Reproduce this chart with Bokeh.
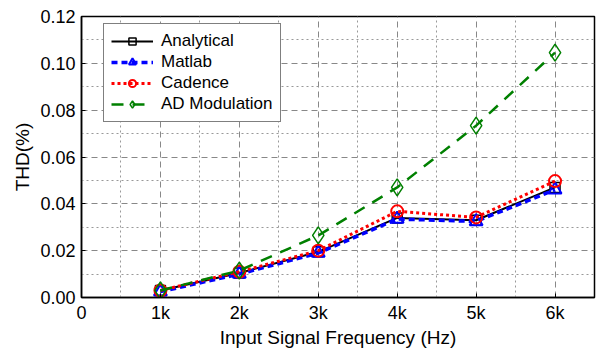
from bokeh.plotting import figure
from bokeh.models import FixedTicker, Range1d, Legend, LegendItem, CustomJSTickFormatter
from bokeh.embed import file_html
from bokeh.resources import INLINE

freq = [1000, 2000, 3000, 4000, 5000, 6000]
analytical = [0.0030, 0.0105, 0.0195, 0.0340, 0.0330, 0.0470]
matlab = [0.0025, 0.0100, 0.0190, 0.0335, 0.0325, 0.0460]
cadence = [0.0030, 0.0110, 0.0200, 0.0368, 0.0342, 0.0497]
ad_mod = [0.0030, 0.0115, 0.0265, 0.0470, 0.0734, 0.1046]

x_ticks = [0, 1000, 2000, 3000, 4000, 5000, 6000]
x_labels = ["0", "1k", "2k", "3k", "4k", "5k", "6k"]
x_minor = [500, 1500, 2500, 3500, 4500, 5500, 6500]
y_ticks = [0.00, 0.02, 0.04, 0.06, 0.08, 0.10, 0.12]
y_minor = [0.01, 0.03, 0.05, 0.07, 0.09, 0.11]

FONT = "Liberation Sans"

p = figure(width=603, height=350, output_backend="svg", toolbar_location=None,
           x_range=Range1d(0, 6500), y_range=Range1d(0, 0.12),
           min_border_left=81, min_border_right=9, min_border_top=16, min_border_bottom=53)
p.background_fill_color = "white"
p.border_fill_color = "white"
p.outline_line_color = "black"
p.outline_line_width = 1.5

xt = FixedTicker(ticks=x_ticks, minor_ticks=x_minor)
yt = FixedTicker(ticks=y_ticks, minor_ticks=y_minor)
xa = p.xaxis[0]
ya = p.yaxis[0]
xa.ticker = xt
xa.major_label_overrides = {t: l for t, l in zip(x_ticks, x_labels)}
ya.ticker = yt
ya.formatter = CustomJSTickFormatter(code="return tick.toFixed(2);")

for ax in [xa, ya]:
    ax.axis_line_color = "black"
    ax.axis_line_width = 1.5
    ax.major_tick_in = 4
    ax.major_tick_out = 0
    ax.minor_tick_in = 0
    ax.minor_tick_out = 0
    ax.major_label_text_font = FONT
    ax.major_label_text_font_size = "18px"
    ax.major_label_text_color = "black"
    ax.axis_label_text_font = FONT
    ax.axis_label_text_font_size = "19px"
    ax.axis_label_text_font_style = "normal"
    ax.axis_label_text_color = "black"

xa.major_label_standoff = 5
ya.major_label_standoff = 6
xa.axis_label = "Input Signal Frequency (Hz)"
xa.axis_label_standoff = 1
ya.axis_label = "THD(%)"
ya.axis_label_standoff = 4

p.xgrid.ticker = xt
p.ygrid.ticker = yt
for g in [p.xgrid[0], p.ygrid[0]]:
    g.grid_line_color = "#888888"
    g.grid_line_dash = "6 4"
    g.grid_line_width = 1
    g.minor_grid_line_color = "#999999"
    g.minor_grid_line_dash = "2 3"
    g.minor_grid_line_width = 1

r1 = p.line(freq, analytical, line_color="black", line_width=2)
m1 = p.scatter(freq, analytical, marker="square", size=10, line_color="black", line_width=1.5, fill_color=None)
r2 = p.line(freq, matlab, line_color="blue", line_width=3.5, line_dash="6 4")
m2 = p.scatter(freq, matlab, marker="triangle", size=13, line_color="blue", line_width=2, fill_color=None)
r3 = p.line(freq, cadence, line_color="red", line_width=3, line_dash="3 3")
m3 = p.scatter(freq, cadence, marker="circle", size=12, line_color="red", line_width=2, fill_color=None)
r4 = p.line(freq, ad_mod, line_color="green", line_width=2.5, line_dash="12 9")
m4 = p.scatter(freq, ad_mod, marker="diamond", size=17, line_color="green", line_width=1.5, fill_color=None)

legend = Legend(items=[
    LegendItem(label="Analytical", renderers=[r1, m1]),
    LegendItem(label="Matlab", renderers=[r2, m2]),
    LegendItem(label="Cadence", renderers=[r3, m3]),
    LegendItem(label="AD Modulation", renderers=[r4, m4]),
])
legend.border_line_color = "black"
legend.border_line_width = 1.5
legend.background_fill_alpha = 1
legend.label_text_font = FONT
legend.label_text_font_size = "17px"
legend.label_text_color = "black"
legend.glyph_width = 42
legend.glyph_height = 18
legend.label_height = 18
legend.spacing = 1
legend.padding = 7
legend.margin = 0
legend.label_standoff = 8
legend.location = (22, 175)
p.add_layout(legend)

open("out.html", "w").write(file_html(p, INLINE))
